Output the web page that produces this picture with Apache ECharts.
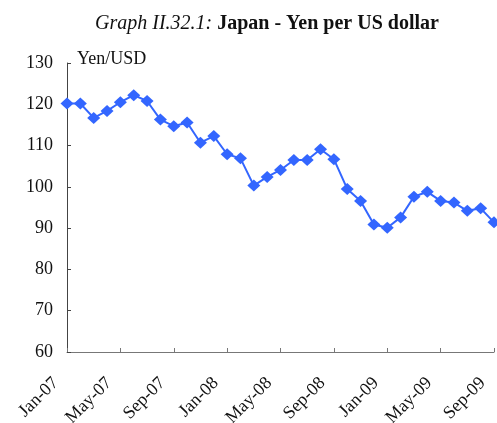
<!DOCTYPE html>
<html>
<head>
<meta charset="utf-8">
<script src="https://cdn.jsdelivr.net/npm/echarts@6/dist/echarts.min.js"></script>
<style>
  html, body { margin: 0; padding: 0; background: #fff; }
  #chart { width: 497px; height: 423px; }
</style>
</head>
<body>
<div id="chart"></div>
<script>
// Monthly yen per US dollar, Jan-07 to Sep-09
const months = [
  'Jan-07','Feb-07','Mar-07','Apr-07','May-07','Jun-07','Jul-07','Aug-07','Sep-07','Oct-07','Nov-07','Dec-07',
  'Jan-08','Feb-08','Mar-08','Apr-08','May-08','Jun-08','Jul-08','Aug-08','Sep-08','Oct-08','Nov-08','Dec-08',
  'Jan-09','Feb-09','Mar-09','Apr-09','May-09','Jun-09','Jul-09','Aug-09','Sep-09'
];
const yenPerUsd = [
  120.2, 120.2, 116.7, 118.4, 120.5, 122.2, 120.8, 116.3, 114.7, 115.6, 110.7, 112.3,
  107.9, 106.9, 100.3, 102.4, 104.1, 106.5, 106.5, 109.1, 106.7, 99.5, 96.6, 90.9,
  90.1, 92.6, 97.6, 98.8, 96.6, 96.2, 94.2, 94.8, 91.4
];
const yTicks = { min: 60, max: 130, step: 10 };

const serif = '"Liberation Serif", "Times New Roman", serif';
const chart = echarts.init(document.getElementById('chart'), null, { renderer: 'canvas' });

chart.setOption({
  animation: false,
  backgroundColor: '#ffffff',
  title: {
    text: '{it|Graph II.32.1:} {b|Japan - Yen per US dollar}',
    left: 90,
    top: 9,
    textStyle: {
      rich: {
        it: { fontFamily: serif, fontStyle: 'italic', fontWeight: 'normal', fontSize: 20, color: '#111' },
        b: { fontFamily: serif, fontWeight: 'bold', fontSize: 20, color: '#111' }
      }
    }
  },
  graphic: [{
    type: 'text',
    left: 77,
    top: 50,
    style: { text: 'Yen/USD', font: '18px ' + serif, fill: '#111' }
  }],
  grid: {
    left: 67, right: 3, top: 63, bottom: 71,
    containLabel: false,
    outerBoundsMode: 'none'
  },
  xAxis: {
    type: 'category',
    data: months,
    boundaryGap: false,
    axisLine: { lineStyle: { color: '#777', width: 1 } },
    axisTick: { inside: true, length: 4, interval: 3, lineStyle: { color: '#777' } },
    axisLabel: {
      interval: 3,
      rotate: 45,
      margin: 17,
      padding: [0, 16, 0, 0],
      fontFamily: serif,
      fontSize: 18,
      color: '#111'
    },
    splitLine: { show: false }
  },
  yAxis: {
    type: 'value',
    min: yTicks.min,
    max: yTicks.max,
    interval: yTicks.step,
    axisLine: { show: true, lineStyle: { color: '#444', width: 1 } },
    axisTick: { show: true, inside: true, length: 4, lineStyle: { color: '#444' } },
    axisLabel: { fontFamily: serif, fontSize: 18, color: '#111', margin: 14 },
    splitLine: { show: false }
  },
  series: [{
    type: 'line',
    data: yenPerUsd,
    symbol: 'diamond',
    symbolSize: [13, 12],
    showAllSymbol: true,
    lineStyle: { color: '#3366ff', width: 2 },
    itemStyle: { color: '#3366ff' }
  }]
});
</script>
</body>
</html>
